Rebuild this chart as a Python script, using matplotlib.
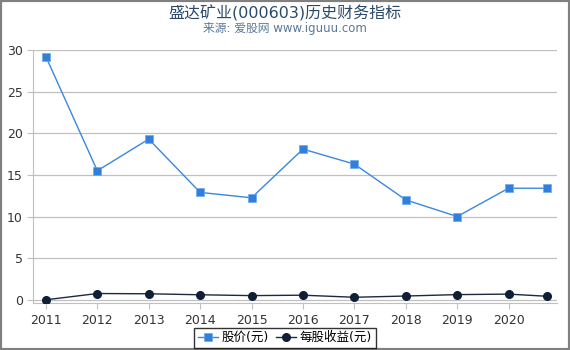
import matplotlib
matplotlib.use("Agg")
import matplotlib.pyplot as plt
from matplotlib.patches import Rectangle

plt.rcParams['font.family'] = ['DejaVu Sans', 'Noto Sans CJK SC']

years = [2011, 2012, 2013, 2014, 2015, 2016, 2017, 2018, 2019, 2020, 2020.75]
tick_years = [2011, 2012, 2013, 2014, 2015, 2016, 2017, 2018, 2019, 2020]
price = [29.2, 15.5, 19.3, 12.9, 12.25, 18.1, 16.3, 12.0, 10.0, 13.4, 13.4]
eps = [0.0, 0.75, 0.72, 0.6, 0.5, 0.55, 0.3, 0.45, 0.62, 0.68, 0.42]
yticks = [0, 5, 10, 15, 20, 25, 30]

fig = plt.figure(figsize=(5.7, 3.5), dpi=100)
ax = fig.add_axes([0.058, 0.134, 0.919, 0.723])

ax.plot(years, price, color='#3a87e0', lw=1, marker='s', ms=5.5,
        markerfacecolor='#2f7fdb', markeredgecolor='#6aa8ec', markeredgewidth=0.5,
        label='股价(元)', zorder=3)
ax.plot(years, eps, color='#1a2a40', lw=1, marker='o', ms=5.5,
        markerfacecolor='#0f1f35', markeredgecolor='#0f1f35',
        label='每股收益(元)', zorder=4)

ax.set_xlim(2010.75, 2020.94)
ax.set_ylim(-0.4, 30)
ax.set_xticks(tick_years)
ax.set_xticklabels([str(y) for y in tick_years])
ax.set_yticks(yticks)
ax.grid(axis='y', color='#c0c0c0', lw=0.9)
ax.set_axisbelow(True)
for s in ['top', 'right']:
    ax.spines[s].set_visible(False)
ax.spines['left'].set_color('#c0c0c0')
ax.spines['bottom'].set_color('#c0c0c0')
ax.tick_params(axis='both', colors='#c0c0c0', labelcolor='#333333', labelsize=9, length=4)

fig.text(0.5, 0.963, '盛达矿业(000603)历史财务指标', ha='center', va='center',
         fontsize=11.5, color='#2b4a6b')
fig.text(0.5, 0.918, '来源: 爱股网 www.iguuu.com', ha='center', va='center',
         fontsize=8.5, color='#5a7898')

leg = fig.legend(loc='center', bbox_to_anchor=(0.5, 0.035), ncol=2, fontsize=9,
                 frameon=True, fancybox=False, handlelength=1.6, handletextpad=0.3,
                 columnspacing=0.6, borderpad=0.3)
leg.get_frame().set_edgecolor('black')
leg.get_frame().set_linewidth(1)

fig.patches.append(Rectangle((0, 0), 1, 1, transform=fig.transFigure, fill=False,
                             edgecolor='#808080', lw=3))

fig.savefig('out.png', dpi=100)
